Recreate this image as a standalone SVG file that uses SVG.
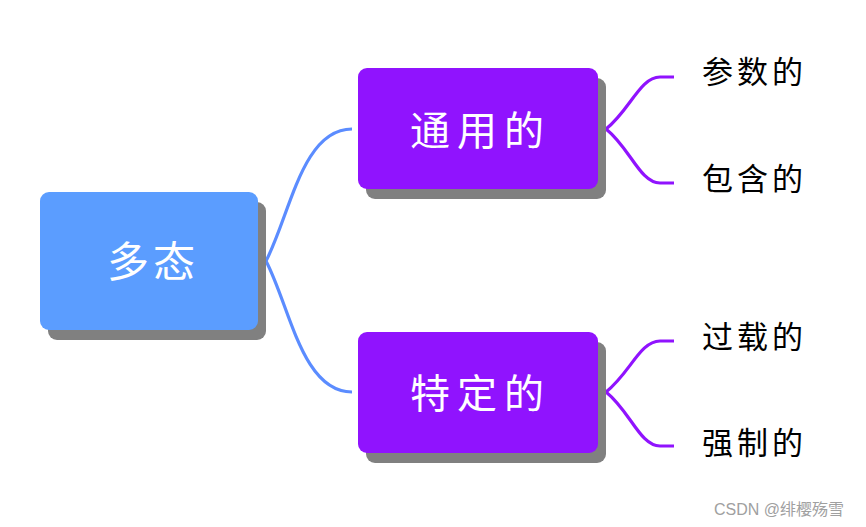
<svg xmlns="http://www.w3.org/2000/svg" width="866" height="527" viewBox="0 0 866 527">
<style>
.shadow{fill:#808080}
.root{fill:#5b9dff}
.sub{fill:#9013fe}
.t{font-family:"Noto Sans CJK SC","Noto Sans",sans-serif;dominant-baseline:central}
.tw{fill:#ffffff}
.leaf{fill:#000000;font-size:31px;letter-spacing:4px}
.lb{fill:none;stroke:#5b8cff;stroke-width:3.2}
.lp{fill:none;stroke:#9013fe;stroke-width:3.2}
</style>
<rect width="866" height="527" fill="#ffffff"/>
<g id="connectors">
<path class="lb" d="M266,261 C290,215 302,129 352,129"/>
<path class="lb" d="M266,261 C290,307 302,392 352,392"/>
<path class="lp" d="M606,129 C630,110 640,77 660,77 L674,77"/>
<path class="lp" d="M606,129 C630,148 640,183 660,183 L674,183"/>
<path class="lp" d="M606,392 C630,373 640,341 660,341 L674,341"/>
<path class="lp" d="M606,392 C630,411 640,446 660,446 L674,446"/>
</g>
<g id="node-root">
<rect class="shadow" x="48" y="202" width="218" height="138" rx="9"/>
<rect class="root" x="40" y="192" width="218" height="138" rx="9"/>
<text class="t tw" x="107" y="258" font-size="42" letter-spacing="4">多态</text>
</g>
<g id="node-general">
<rect class="shadow" x="366" y="78" width="240" height="121" rx="9"/>
<rect class="sub" x="358" y="68" width="240" height="121" rx="9"/>
<text class="t tw" x="410" y="128" font-size="40" letter-spacing="7">通用的</text>
</g>
<g id="node-specific">
<rect class="shadow" x="366" y="342" width="240" height="121" rx="9"/>
<rect class="sub" x="358" y="332" width="240" height="121" rx="9"/>
<text class="t tw" x="410" y="391" font-size="40" letter-spacing="7">特定的</text>
</g>
<g id="leaf-param"><text class="t leaf" x="702" y="69">参数的</text></g>
<g id="leaf-incl"><text class="t leaf" x="702" y="176">包含的</text></g>
<g id="leaf-overload"><text class="t leaf" x="702" y="334">过载的</text></g>
<g id="leaf-coerce"><text class="t leaf" x="702" y="440">强制的</text></g>
<text x="714" y="515" font-family="'Liberation Sans','Noto Sans CJK SC',sans-serif" font-size="16" fill="#a0a0a0">CSDN @绯樱殇雪</text>
</svg>
